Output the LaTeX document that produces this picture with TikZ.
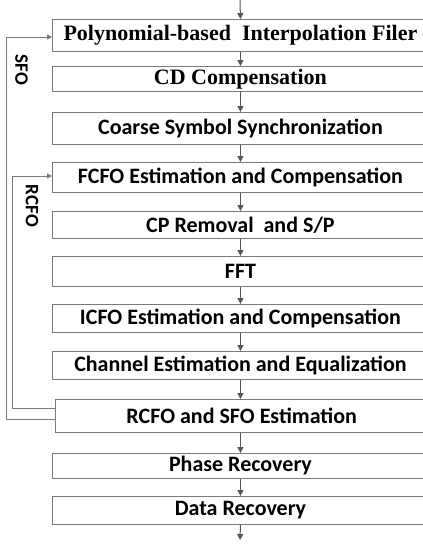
\documentclass[tikz,border=0pt]{standalone}
\usepackage{fontspec}
\setmainfont{Carlito}
\newfontfamily\tnr{Liberation Serif}
\usetikzlibrary{arrows.meta,calc}
\definecolor{boxgray}{HTML}{7A7A7A}
\definecolor{arrgray}{HTML}{555555}
\begin{document}
\begin{tikzpicture}[x=1pt,y=-1pt,
  blk/.style={draw=boxgray, line width=0.9pt, minimum width=376pt, anchor=north west,
    inner sep=0pt, font=\bfseries\fontsize{22}{24}\selectfont},
  sblk/.style={blk, font=\tnr\bfseries\fontsize{22}{24}\selectfont},
  arr/.style={draw=arrgray, line width=1pt, -{Triangle[length=6pt,width=6pt]}},
  fb/.style={draw=boxgray, line width=0.9pt, -{Triangle[length=5pt,width=5pt]}},
  lbl/.style={rotate=-90, font=\bfseries\fontsize{19}{21}\selectfont, inner sep=0pt}]
\useasboundingbox (0,0) rectangle (423,544);
\clip (0,0) rectangle (423,544);
\node[sblk, minimum height=32pt] (b1) at (52,19) {Polynomial-based\ \ Interpolation Filer};
\node[sblk, minimum height=25pt] (b2) at (52,66) {CD Compensation};
\node[blk, minimum height=32pt] (b3) at (52,112) {Coarse Symbol Synchronization};
\node[blk, minimum height=30pt] (b4) at (52,162) {FCFO Estimation and Compensation};
\node[blk, minimum height=27pt] (b5) at (52,211) {CP Removal\ \ and S/P};
\node[blk, minimum height=30pt] (b6) at (52,256) {FFT};
\node[blk, minimum height=28pt] (b7) at (52,304) {ICFO Estimation and Compensation};
\node[blk, minimum height=28pt] (b8) at (52,351) {Channel Estimation and Equalization};
\node[blk, minimum height=33pt, minimum width=373.5pt] (b9) at (54.5,399) {RCFO and SFO Estimation};
\node[blk, minimum height=25pt] (b10) at (52,453) {Phase Recovery};
\node[blk, minimum height=28pt] (b11) at (52,496) {Data Recovery};
\coordinate (in) at (240,0);
\coordinate (out) at (240,540);
\draw[arr] (in) -- (b1.north);
\draw[arr] (b1.south) -- (b2.north);
\draw[arr] (b2.south) -- (b3.north);
\draw[arr] (b3.south) -- (b4.north);
\draw[arr] (b4.south) -- (b5.north);
\draw[arr] (b5.south) -- (b6.north);
\draw[arr] (b6.south) -- (b7.north);
\draw[arr] (b7.south) -- (b8.north);
\draw[arr] (b8.south) -- (b8.south |- b9.north);
\draw[arr] (b9.south -| b10.north) -- (b10.north);
\draw[arr] (b10.south) -- (b11.north);
\draw[arr] (b11.south) -- (out);
\coordinate (so) at (6,419);
\coordinate (si) at (6,37);
\coordinate (ro) at (12.5,408);
\coordinate (ri) at (12.5,176);
\draw[fb] (b9.west |- so) -- (so) -- (si) -- (si -| b1.west);
\draw[fb] (b9.west |- ro) -- (ro) -- (ri) -- (ri -| b4.west);
\node[lbl] (sfo) at (21.5,70) {SFO};
\node[lbl] (rcfo) at (32,206) {RCFO};
\end{tikzpicture}
\end{document}
